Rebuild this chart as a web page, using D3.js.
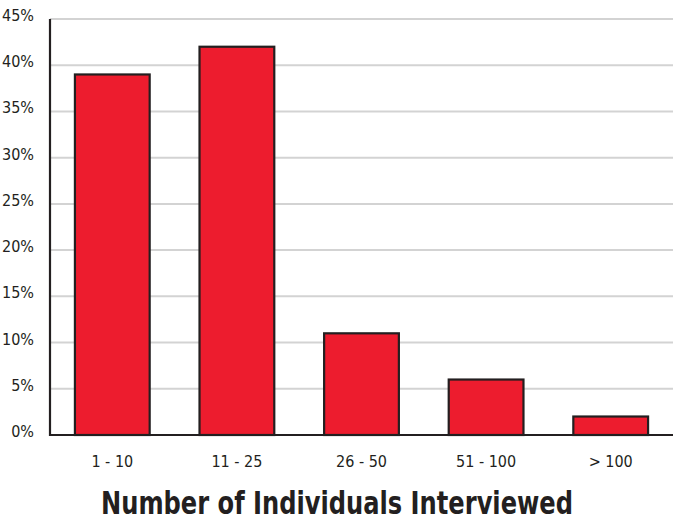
<!DOCTYPE html>
<html>
<head>
<meta charset="utf-8">
<script src="https://cdn.jsdelivr.net/npm/d3@7"></script>
<style>
  html, body { margin: 0; padding: 0; background: #fff; }
  svg { display: block; }
  text { font-family: "Liberation Sans Narrow", "DejaVu Sans Condensed", "Roboto", sans-serif; fill: #231f20; }
</style>
</head>
<body>
<svg id="chart" width="674" height="523"></svg>
<script>
// Share of respondents by number of individuals interviewed
const categories = ["1 - 10", "11 - 25", "26 - 50", "51 - 100", "> 100"];
const values = [39, 42, 11, 6, 2];
const yTicks = [0, 5, 10, 15, 20, 25, 30, 35, 40, 45];
const xTitle = "Number of Individuals Interviewed";

const svg = d3.select("#chart");
const plotLeft = 50, plotRight = 673, plotTop = 19, plotBottom = 435;

const x = d3.scaleBand()
  .domain(categories)
  .range([plotLeft, plotRight])
  .paddingInner(0.4)
  .paddingOuter(0.2);

const y = d3.scaleLinear()
  .domain([0, 45])
  .range([plotBottom, plotTop]);

// horizontal gridlines
svg.append("g")
  .selectAll("line")
  .data(yTicks.filter(t => t > 0))
  .join("line")
  .attr("x1", plotLeft)
  .attr("x2", plotRight)
  .attr("y1", d => y(d))
  .attr("y2", d => y(d))
  .attr("stroke", "#d3d3d3")
  .attr("stroke-width", 2);

// y tick labels
svg.append("g")
  .selectAll("text")
  .data(yTicks)
  .join("text")
  .attr("x", 34)
  .attr("y", d => y(d) + 2)
  .attr("text-anchor", "end")
  .attr("font-size", 16)
  .text(d => d + "%");

// bars
svg.append("g")
  .selectAll("rect")
  .data(values)
  .join("rect")
  .attr("x", (d, i) => x(categories[i]))
  .attr("y", d => y(d))
  .attr("width", x.bandwidth())
  .attr("height", d => y(0) - y(d))
  .attr("fill", "#ed1c2e")
  .attr("stroke", "#231f20")
  .attr("stroke-width", 2.2);

// axis lines
svg.append("line")
  .attr("x1", plotLeft).attr("x2", plotLeft)
  .attr("y1", plotTop).attr("y2", plotBottom + 1)
  .attr("stroke", "#231f20").attr("stroke-width", 2.2);
svg.append("line")
  .attr("x1", plotLeft - 1).attr("x2", plotRight)
  .attr("y1", plotBottom).attr("y2", plotBottom)
  .attr("stroke", "#231f20").attr("stroke-width", 2.2);

// x category labels
svg.append("g")
  .selectAll("text")
  .data(categories)
  .join("text")
  .attr("x", d => x(d) + x.bandwidth() / 2)
  .attr("y", 467)
  .attr("text-anchor", "middle")
  .attr("font-size", 16)
  .text(d => d);

// x axis title
svg.append("text")
  .attr("x", 337)
  .attr("y", 514)
  .attr("text-anchor", "middle")
  .attr("font-size", 32)
  .attr("font-weight", "bold")
  .attr("textLength", 472)
  .attr("lengthAdjust", "spacingAndGlyphs")
  .text(xTitle);
</script>
</body>
</html>
